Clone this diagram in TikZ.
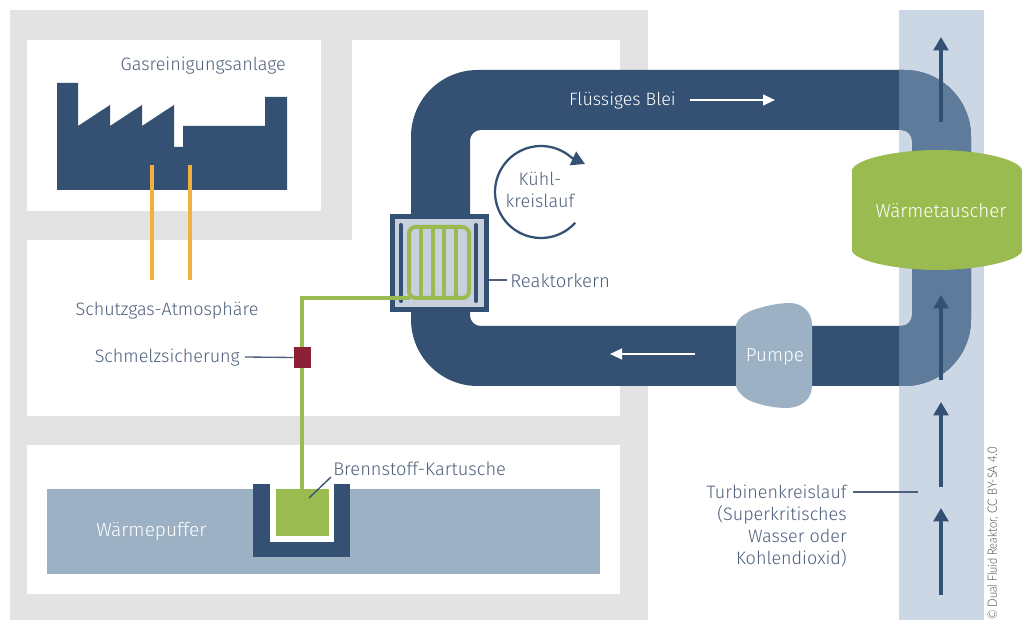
\documentclass[tikz,border=0pt]{standalone}
\usepackage{fontspec}
\setmainfont{Fira Sans Light}
\newfontfamily\credfont[FakeStretch=0.87]{Lato Light}
\usetikzlibrary{arrows.meta}
\definecolor{panel}{HTML}{E3E3E3}
\definecolor{band}{HTML}{CBD7E5}
\definecolor{pipec}{HTML}{345072}
\definecolor{pipelt}{HTML}{5F7B9B}
\definecolor{greenc}{HTML}{9ABB50}
\definecolor{blob}{HTML}{9DB1C5}
\definecolor{corec}{HTML}{C8CFDD}
\definecolor{orangec}{HTML}{F2B03E}
\definecolor{fusec}{HTML}{8C1F35}
\definecolor{txt}{HTML}{4F5F7C}
\newcommand{\fsz}[1]{\fontsize{#1pt}{16.5pt}\selectfont}
\tikzset{
  lab/.style={inner sep=0pt,text=txt,font=\fsz{13.5}},
  whitelab/.style={lab,text=white,font=\fsz{14.1}},
  leader/.style={draw=txt,line width=1pt},
  flow/.style={draw=pipec,line width=2.4pt,-{Triangle[length=10pt,width=11pt]}},
  wflow/.style={draw=white,line width=1.6pt,-{Triangle[length=9pt,width=8pt]}},
  gline/.style={draw=greenc,line width=3pt},
  oline/.style={draw=orangec,line width=3pt},
}
\begin{document}
\begin{tikzpicture}[x=0.75pt,y=-0.75pt]
\useasboundingbox (0,0) rectangle (1022,620);
\fill[white] (0,0) rectangle (1022,620);
% panels
\fill[panel] (10,10) rectangle (648,620);
\fill[white] (27,40) rectangle (321,211);
\fill[white] (352,40) -- (620,40) -- (620,416) -- (27,416) -- (27,240) -- (352,240) -- cycle;
\fill[white] (27,445) rectangle (620,594);
\fill[white,rounded corners=8pt] (470,130) rectangle (930,326);
% turbine band
\fill[band] (899,10) rectangle (984,620);
% pipe
\fill[pipec,even odd rule] [rounded corners=50pt] (411,70) rectangle (971,386)
   [rounded corners=8pt] (470,130) rectangle (912,326);
\begin{scope}
\clip (899,0) rectangle (1022,620);
\fill[pipelt,even odd rule] [rounded corners=50pt] (411,70) rectangle (971,386)
   [rounded corners=8pt] (470,130) rectangle (912,326);
\end{scope}
% pump
\path[fill=blob] (736,325) .. controls (738,318) and (745,313) .. (753,310)
  .. controls (768,305) and (780,303) .. (790,303)
  .. controls (802,303) and (812,312) .. (812,325)
  -- (812,386)
  .. controls (812,400) and (800,408) .. (787,408)
  .. controls (775,408) and (765,406) .. (753,402)
  .. controls (745,399) and (738,393) .. (736,386) -- cycle;
% heat exchanger
\path[fill=greenc] (852,170) .. controls (856,158) and (900,150) .. (937,150)
  .. controls (975,150) and (1018,158) .. (1022,170) -- (1022,251)
  .. controls (1018,262) and (975,270) .. (937,270)
  .. controls (900,270) and (856,262) .. (852,251) -- cycle;
% factory
\fill[pipec] (57,83) -- (78,83) -- (78,126) -- (110,105) -- (110,126) -- (142,105) -- (142,126)
  -- (174,105) -- (174,147) -- (183,147) -- (183,126) -- (265,126) -- (265,97) -- (287,97)
  -- (287,190) -- (57,190) -- cycle;
\coordinate (o1a) at (152,165); \coordinate (o1b) at (152,280);
\coordinate (o2a) at (190,165); \coordinate (o2b) at (190,280);
\draw[oline] (o1a) -- (o1b);
\draw[oline] (o2a) -- (o2b);
% buffer
\fill[blob] (47,489) rectangle (600,574);
\fill[pipec] (253,484) rectangle (350,557);
\fill[white] (270,480) rectangle (334,542);
\fill[white] (270,470) rectangle (334,484);
\node[fill=greenc,minimum width=39.75pt,minimum height=35.25pt,inner sep=0pt] (cart) at (302.5,512.5) {};
% reactor
\node[draw=pipec,fill=corec,line width=3.6pt,minimum width=70pt,minimum height=70pt,inner sep=0pt] (core) at (439.5,263) {};
\draw[pipec,line width=3pt,line cap=round] (401,225) -- (401,301);
\draw[pipec,line width=3pt,line cap=round] (476,225) -- (476,301);
\draw[gline,rounded corners=5pt] (409,227) rectangle (469,298);
\foreach \xx in {421,433,444,456} \draw[gline] (\xx,227) -- (\xx,298);
% fuel line
\coordinate (gc) at (302,298);
\coordinate (gr) at (410,298);
\draw[gline] (gr) -- (gc) -- (cart.north -| gc);
\node[fill=fusec,minimum width=13pt,minimum height=15.5pt,inner sep=0pt] (fuse) at (302.5,357.5) {};
% circular arrow
\coordinate (tip) at (585,164);
\draw[draw=pipec,line width=1.7pt,-{Triangle[length=10pt,width=11pt]}] plot[smooth,domain=42:312,samples=50] ({541+46*cos(\x)},{192+46*sin(\x)}) -- (tip);
% flow arrows
\foreach \nm/\a/\b in {a/122/37,b/380/295,c/487/402,d/595/508} {
  \coordinate (s\nm) at (941,\a); \coordinate (e\nm) at (941,\b);
  \draw[flow] (s\nm) -- (e\nm);
}
\coordinate (wa1) at (690,100); \coordinate (wa2) at (775,100);
\coordinate (wb1) at (695,354); \coordinate (wb2) at (610,354);
\draw[wflow] (wa1) -- (wa2);
\draw[wflow] (wb1) -- (wb2);
% labels
\node[lab,anchor=east] (gas) at (286,66) {Gasreinigungsanlage};
\node[lab] (schutz) at (167,311) {Schutzgas-Atmosphäre};
\node[lab,anchor=east] (schmelz) at (240,358) {Schmelzsicherung};
\node[lab,anchor=west,font=\fsz{13.9}] (reak) at (510,281) {Reaktorkern};
\node[lab,align=center] (kuehl) at (540,190) {Kühl-\\kreislauf};
\node[whitelab,anchor=east,font=\fsz{13.4}] (blei) at (676,101) {Flüssiges Blei};
\node[whitelab] (pumpe) at (775,357) {Pumpe};
\node[whitelab] (waerme) at (941,211) {Wärmetauscher};
\node[whitelab,anchor=west,font=\fsz{14.3}] (puffer) at (96,531) {Wärmepuffer};
\node[lab,anchor=west,font=\fsz{13.7}] (brenn) at (333,469) {Brennstoff-Kartusche};
\node[lab,align=right,anchor=north east] (turb) at (847,485) {Turbinenkreislauf\\(Superkritisches\\Wasser oder\\Kohlendioxid)};
\node[inner sep=0pt,text=black!75,rotate=90,anchor=west,font=\credfont\fontsize{9.6pt}{11pt}\selectfont] (cred) at (993,620) {© Dual Fluid Reaktor, CC BY-SA 4.0};
% leaders
\coordinate (l1) at (245,357);
\coordinate (l2) at (507,280);
\coordinate (l3) at (853,492);
\coordinate (l4) at (918,492);
\coordinate (l5) at (331,477);
\coordinate (l6) at (309,498);
\draw[leader] (l1) -- (fuse.west);
\draw[leader] (core.east |- l2) -- (l2);
\draw[leader] (l3) -- (l4);
\draw[leader,draw=pipec] (l5) -- (l6);
\end{tikzpicture}
\end{document}
